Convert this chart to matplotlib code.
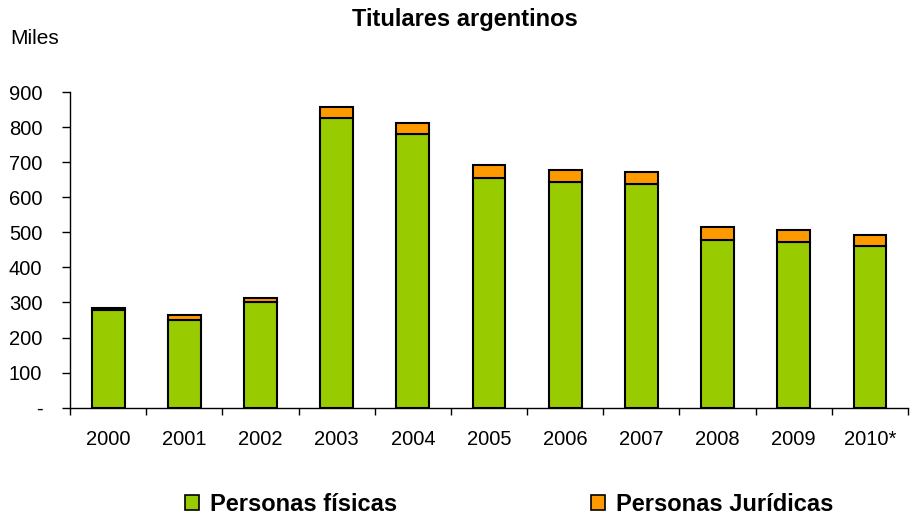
import matplotlib
matplotlib.use("Agg")
import matplotlib.pyplot as plt
from matplotlib.patches import Patch
from matplotlib.ticker import FixedLocator

years = ["2000", "2001", "2002", "2003", "2004", "2005", "2006", "2007", "2008", "2009", "2010*"]
fisicas = [279, 250, 301, 827, 781, 656, 643, 639, 479, 473, 460]
juridicas = [6, 13, 13, 29, 30, 35, 36, 34, 35, 34, 31]
yticks = [0, 100, 200, 300, 400, 500, 600, 700, 800, 900]
ytick_labels = ["-", "100", "200", "300", "400", "500", "600", "700", "800", "900"]

plt.rcParams['font.family'] = ['Liberation Sans', 'DejaVu Sans']

fig = plt.figure(figsize=(9.24, 5.17), dpi=100)
ax = fig.add_axes([0.0758, 0.2114, 0.9069, 0.6106])

x = list(range(len(years)))
green = "#99CC00"
orange = "#FF9900"
ax.bar(x, fisicas, width=0.43, color=green, edgecolor="black", linewidth=1.5, zorder=3)
ax.bar(x, juridicas, width=0.43, bottom=fisicas, color=orange, edgecolor="black", linewidth=1.5, zorder=3)

ax.set_xlim(-0.5, len(years) - 0.5)
ax.set_ylim(0, 900)
ax.set_yticks(yticks)
ax.set_yticklabels(ytick_labels, fontsize=14.5)
ax.set_xticks(x)
ax.set_xticklabels(years, fontsize=14.5)
ax.tick_params(axis='x', which='major', length=0, pad=16)
ax.xaxis.set_minor_locator(FixedLocator([i - 0.5 for i in range(len(years) + 1)]))
ax.tick_params(axis='x', which='minor', length=5, width=1, direction='out')
ax.tick_params(axis='y', length=6, width=1, direction='out', pad=14)

ax.spines['top'].set_visible(False)
ax.spines['right'].set_visible(False)
ax.spines['left'].set_linewidth(1)
ax.spines['bottom'].set_linewidth(1)

fig.text(0.503, 0.962, "Titulares argentinos", ha='center', va='center', fontsize=17, fontweight='bold')
fig.text(0.011, 0.926, "Miles", ha='left', va='center', fontsize=15)

handles = [Patch(facecolor=green, edgecolor="black", linewidth=1.2, label="Personas físicas"),
           Patch(facecolor=orange, edgecolor="black", linewidth=1.2, label="Personas Jurídicas")]
leg = fig.legend(handles=handles, loc='center', bbox_to_anchor=(0.551, 0.025), ncol=2, frameon=False,
                 prop={'size': 17, 'weight': 'bold'}, handlelength=0.6, handleheight=0.6,
                 handletextpad=0.45, columnspacing=8.2)

fig.savefig("out.png", dpi=100)
